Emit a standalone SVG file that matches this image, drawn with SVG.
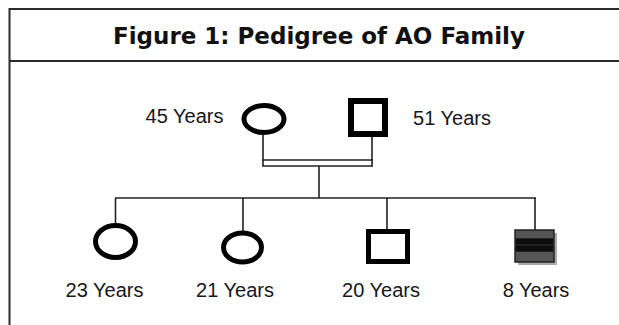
<svg xmlns="http://www.w3.org/2000/svg" width="619" height="325" viewBox="0 0 619 325">
<style>
.frame{fill:none;stroke:#2b2b2b;stroke-width:2}
.title{font-family:"DejaVu Sans",Verdana,sans-serif;font-weight:bold;font-size:23px;fill:#111}
.lbl{font-family:"Liberation Sans",Arial,sans-serif;font-size:20px;fill:#161620;text-anchor:middle}
.sym{fill:#fff;stroke:#000}
.ln{fill:none;stroke:#222;stroke-width:1.6}
</style>
<rect x="0" y="0" width="619" height="325" fill="#fff"/>
<g id="frame">
<path class="frame" d="M9.5 325 V9 H619"/>
<path class="frame" d="M9.5 61 H619"/>
<text class="title" x="319" y="44" text-anchor="middle" textLength="412" lengthAdjust="spacing">Figure 1: Pedigree of AO Family</text>
</g>
<g id="connectors">
<path class="ln" d="M263 135 V166 M372 137 V166 M262 160 H373 M262 166 H373 M319 166 V198 M115 198 H536 M115.5 198 V223 M243 198 V231 M387 198 V231 M535 198 V231"/>
</g>
<g id="mother">
<ellipse class="sym" cx="264" cy="119" rx="20" ry="13.5" stroke-width="5"/>
<text class="lbl" x="184.5" y="122.5">45 Years</text>
</g>
<g id="father">
<rect class="sym" x="351" y="101" width="34" height="33" stroke-width="6"/>
<text class="lbl" x="452" y="124.5">51 Years</text>
</g>
<g id="child1">
<ellipse class="sym" cx="115.5" cy="241.5" rx="20" ry="16" stroke-width="5"/>
<text class="lbl" x="104.5" y="297">23 Years</text>
</g>
<g id="child2">
<ellipse class="sym" cx="242.5" cy="247.5" rx="19" ry="14.5" stroke-width="5"/>
<text class="lbl" x="235" y="297">21 Years</text>
</g>
<g id="child3">
<rect class="sym" x="368.5" y="231.5" width="39" height="30" stroke-width="5"/>
<text class="lbl" x="381" y="297">20 Years</text>
</g>
<g id="child4">
<rect x="518" y="233" width="39" height="32" fill="#aaa"/>
<rect x="515" y="230" width="39" height="32" fill="#555" stroke="#222" stroke-width="1.5"/>
<rect x="515.8" y="238.3" width="37.4" height="13.4" fill="#0d0d0d"/>
<line x1="516" y1="245" x2="553" y2="245" stroke="#333" stroke-width="1"/>
<text class="lbl" x="536" y="297">8 Years</text>
</g>
</svg>
